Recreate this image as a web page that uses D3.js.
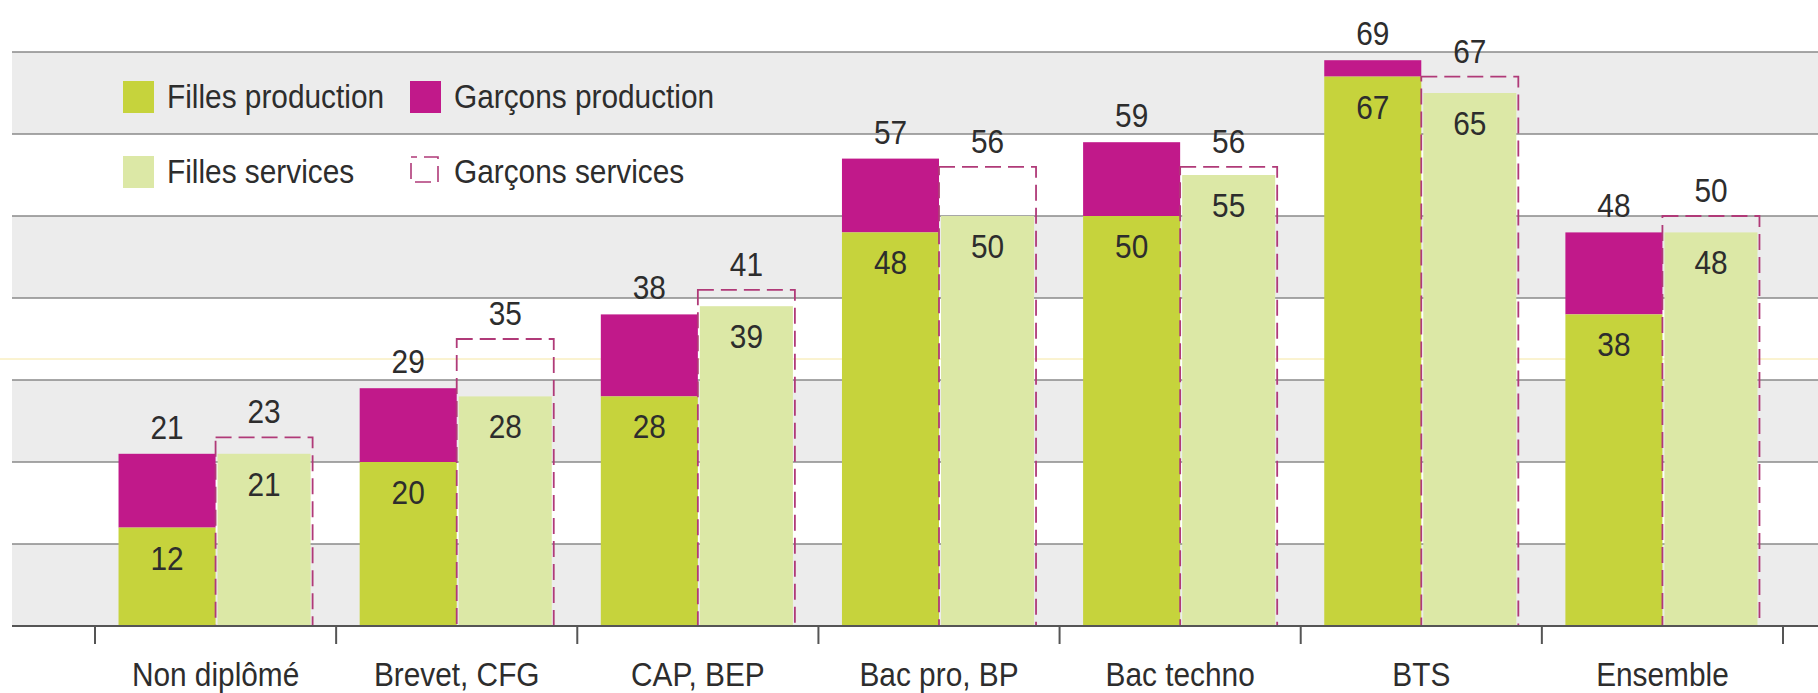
<!DOCTYPE html>
<html>
<head>
<meta charset="utf-8">
<script src="https://cdn.jsdelivr.net/npm/d3@7"></script>
<style>
  html, body { margin: 0; padding: 0; background: #fff; }
  svg { display: block; }
  text { font-family: "Liberation Sans", Arial, sans-serif; fill: #2d2d2d; }
</style>
</head>
<body>
<svg id="chart" width="1818" height="693"></svg>
<script>
const categories = ["Non diplômé", "Brevet, CFG", "CAP, BEP", "Bac pro, BP", "Bac techno", "BTS", "Ensemble"];
const fillesProduction  = [12, 20, 28, 48, 50, 67, 38];
const garconsProduction = [21, 29, 38, 57, 59, 69, 48];
const fillesServices    = [21, 28, 39, 50, 55, 65, 48];
const garconsServices   = [23, 35, 41, 56, 56, 67, 50];
const yTicks = [0, 10, 20, 30, 40, 50, 60, 70];
const legendLabels = ["Filles production", "Garçons production", "Filles services", "Garçons services"];

const C = {
  fp: "#c6d33c",
  gp: "#c1198a",
  fs: "#dce8a6",
  gsStroke: "#b03a78",
  band: "#ececec",
  grid: "#8a8a8a",
  axis: "#555"
};

const W = 1818, H = 693;
const FS = 33.5, SX = 0.89;
const svg = d3.select("#chart");

const y = d3.scaleLinear().domain([0, 70]).range([626, 52]);
const x = d3.scaleBand().domain(categories).range([95, 1783]).paddingInner(0).paddingOuter(0);
const xs = d3.scaleBand().domain(["prod", "serv"]).range([0, x.bandwidth()]).paddingInner(0).paddingOuter(0.2425);

const left = 12, right = W;

// alternating bands
const bandStarts = yTicks.slice(0, -1).filter(v => (v / 10) % 2 === 0);
svg.append("g").selectAll("rect").data(bandStarts).join("rect")
  .attr("x", left).attr("width", right - left)
  .attr("y", d => y(d + 10)).attr("height", d => y(d) - y(d + 10))
  .attr("fill", C.band);

// gridlines
svg.append("g").selectAll("line").data(yTicks.slice(1)).join("line")
  .attr("x1", left).attr("x2", right)
  .attr("y1", d => y(d)).attr("y2", d => y(d))
  .attr("stroke", C.grid).attr("stroke-width", 1.6);

// faint artifact line
svg.append("line").attr("x1", 0).attr("x2", W).attr("y1", 359).attr("y2", 359)
  .attr("stroke", "#f6e7a2").attr("stroke-width", 1);

const rows = categories.map((c, i) => ({
  c, fp: fillesProduction[i], gp: garconsProduction[i], fs: fillesServices[i], gs: garconsServices[i]
}));

const grp = svg.append("g").selectAll("g.cat").data(rows).join("g").attr("class", "cat")
  .attr("transform", d => `translate(${x(d.c)},0)`);

const bw = xs.bandwidth();

grp.append("rect")
  .attr("x", xs("prod")).attr("width", bw)
  .attr("y", d => y(d.gp)).attr("height", d => y(d.fp) - y(d.gp))
  .attr("fill", C.gp);
grp.append("rect")
  .attr("x", xs("prod")).attr("width", bw)
  .attr("y", d => y(d.fp)).attr("height", d => y(0) - y(d.fp))
  .attr("fill", C.fp);
grp.append("rect")
  .attr("x", xs("serv") + 2).attr("width", bw - 4)
  .attr("y", d => y(d.fs)).attr("height", d => y(0) - y(d.fs))
  .attr("fill", C.fs);
grp.append("rect")
  .attr("x", xs("serv")).attr("width", bw)
  .attr("y", d => y(d.gs)).attr("height", d => y(0) - y(d.gs))
  .attr("fill", "none")
  .attr("stroke", C.gsStroke).attr("stroke-width", 1.8)
  .attr("stroke-dasharray", "16,7");

// labels
function lbl(sel, xv, yf, tf) {
  sel.append("text")
    .attr("transform", d => `translate(${xv},${yf(d)}) scale(${SX},1)`)
    .attr("text-anchor", "middle")
    .attr("font-size", FS)
    .text(tf);
}
const cx = xs("prod") + bw / 2, sx = xs("serv") + bw / 2;
lbl(grp, cx, d => y(d.gp) - 15, d => d.gp);
lbl(grp, cx, d => y(d.fp) + 42, d => d.fp);
lbl(grp, sx, d => y(d.gs) - 14, d => d.gs);
lbl(grp, sx, d => y(d.fs) + 42, d => d.fs);

// baseline
svg.append("line").attr("x1", left).attr("x2", right)
  .attr("y1", y(0)).attr("y2", y(0))
  .attr("stroke", C.axis).attr("stroke-width", 2);

// category boundary ticks
const boundaries = categories.map(c => x(c)).concat([x(categories[categories.length - 1]) + x.bandwidth()]);
svg.append("g").selectAll("line").data(boundaries).join("line")
  .attr("x1", d => d).attr("x2", d => d)
  .attr("y1", y(0)).attr("y2", y(0) + 18)
  .attr("stroke", C.axis).attr("stroke-width", 2);

// category labels via axis
const ax = svg.append("g").attr("transform", `translate(0,${y(0)})`)
  .call(d3.axisBottom(x).tickSize(0).tickPadding(0));
ax.select(".domain").remove();
ax.attr("font-family", null).attr("font-size", null);
ax.selectAll("text")
  .attr("y", null).attr("dy", null)
  .attr("transform", `translate(0,60) scale(${SX},1)`)
  .attr("font-size", FS)
  .attr("fill", "#2d2d2d");

// legend
const legend = [
  { t: legendLabels[0], x: 123, y: 81, kind: "fp" },
  { t: legendLabels[1], x: 410, y: 81, kind: "gp" },
  { t: legendLabels[2], x: 123, y: 156, kind: "fs" },
  { t: legendLabels[3], x: 410, y: 156, kind: "gs" }
];
const lg = svg.append("g").selectAll("g").data(legend).join("g")
  .attr("transform", d => `translate(${d.x},${d.y})`);
lg.filter(d => d.kind !== "gs").append("rect")
  .attr("width", 31).attr("height", 32)
  .attr("fill", d => C[d.kind]);
lg.filter(d => d.kind === "gs").append("rect")
  .attr("x", 1).attr("y", 1).attr("width", 27).attr("height", 25)
  .attr("fill", "none").attr("stroke", C.gsStroke).attr("stroke-width", 1.6)
  .attr("stroke-dasharray", "16,7").attr("stroke-dashoffset", 10);
lg.append("text")
  .attr("transform", `translate(44,27) scale(${SX},1)`)
  .attr("font-size", FS)
  .text(d => d.t);
</script>
</body>
</html>
